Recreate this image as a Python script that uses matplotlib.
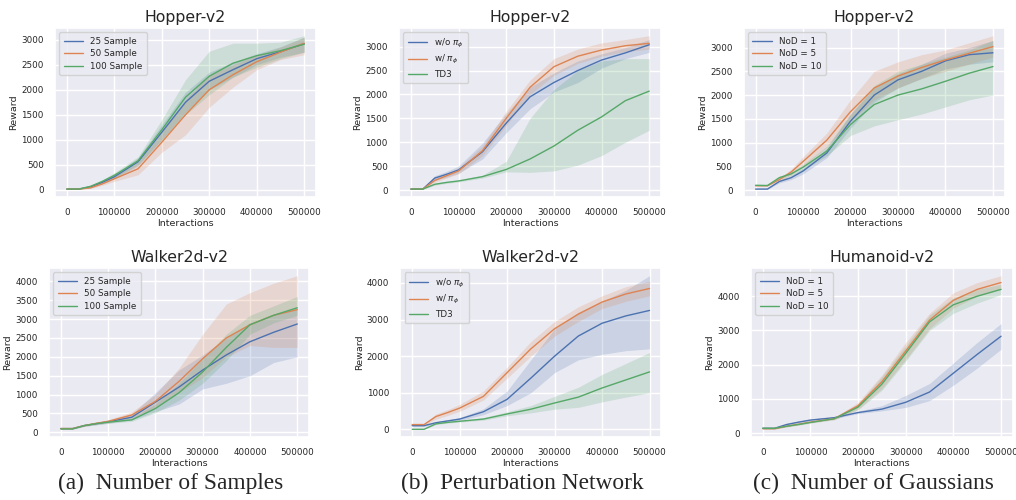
import numpy as np
import matplotlib
matplotlib.use("Agg")
import matplotlib.pyplot as plt
import seaborn as sns

steps = [0, 25000, 50000, 75000, 100000, 150000, 200000, 250000,
         300000, 350000, 400000, 450000, 500000]

# (a) Hopper-v2, number of samples
hop_s25 = [15, 15, 60, 150, 260, 560, 1150, 1750, 2170, 2400, 2620, 2760, 2920]
hop_s25_lo = [10, 10, 40, 120, 220, 480, 1000, 1550, 2000, 2250, 2500, 2650, 2750]
hop_s25_hi = [20, 20, 80, 180, 300, 640, 1300, 1950, 2350, 2550, 2720, 2860, 3050]
hop_s50 = [15, 15, 40, 120, 220, 420, 950, 1500, 2000, 2300, 2560, 2750, 2930]
hop_s50_lo = [10, 10, 25, 90, 170, 300, 750, 1100, 1650, 2050, 2400, 2600, 2700]
hop_s50_hi = [20, 20, 60, 150, 270, 550, 1150, 1800, 2300, 2500, 2700, 2850, 3050]
hop_s100 = [15, 15, 70, 170, 290, 580, 1200, 1850, 2270, 2530, 2680, 2780, 2910]
hop_s100_lo = [10, 10, 50, 140, 240, 500, 1000, 1500, 1900, 2250, 2450, 2620, 2750]
hop_s100_hi = [20, 20, 90, 200, 340, 660, 1400, 2200, 2770, 2930, 2930, 2950, 3080]

# (a) Walker2d-v2, number of samples
wal_s25 = [100, 100, 180, 230, 280, 400, 800, 1200, 1650, 2050, 2400, 2650, 2870]
wal_s25_lo = [90, 90, 160, 200, 240, 330, 550, 750, 1150, 1300, 1500, 1850, 2000]
wal_s25_hi = [110, 110, 200, 260, 330, 480, 1050, 1650, 2050, 2500, 2900, 3100, 3300]
wal_s50 = [100, 100, 180, 240, 290, 460, 820, 1350, 1950, 2500, 2850, 3100, 3250]
wal_s50_lo = [90, 90, 160, 210, 250, 380, 650, 1050, 1450, 2000, 2300, 2250, 2250]
wal_s50_hi = [110, 110, 200, 270, 330, 540, 1000, 1700, 2600, 3400, 3700, 3950, 4150]
wal_s100 = [90, 90, 180, 230, 270, 330, 630, 1050, 1600, 2250, 2850, 3100, 3300]
wal_s100_lo = [80, 80, 160, 200, 240, 290, 520, 850, 1300, 1900, 2600, 2900, 3100]
wal_s100_hi = [100, 100, 200, 260, 300, 380, 750, 1300, 1950, 2600, 3100, 3350, 3600]

# (b) Hopper-v2, perturbation network
hop_wo = [20, 20, 250, 330, 420, 800, 1400, 1950, 2250, 2500, 2720, 2870, 3040]
hop_wo_lo = [15, 15, 200, 270, 350, 650, 1200, 1700, 2050, 2250, 2550, 2750, 2880]
hop_wo_hi = [25, 25, 300, 390, 500, 980, 1600, 2150, 2450, 2700, 2850, 2980, 3150]
hop_w = [20, 20, 200, 300, 400, 820, 1500, 2150, 2580, 2800, 2930, 3020, 3070]
hop_w_lo = [15, 15, 160, 250, 340, 720, 1350, 2000, 2400, 2650, 2800, 2900, 2950]
hop_w_hi = [25, 25, 240, 350, 460, 920, 1650, 2300, 2750, 2950, 3080, 3150, 3230]
hop_td3 = [20, 20, 120, 160, 190, 280, 430, 650, 920, 1250, 1530, 1870, 2070]
hop_td3_lo = [15, 15, 100, 140, 170, 250, 380, 370, 400, 520, 720, 1000, 1250]
hop_td3_hi = [25, 25, 140, 180, 210, 310, 600, 1500, 2100, 2500, 2700, 2750, 2750]

# (b) Walker2d-v2, perturbation network
wal_wo = [100, 100, 180, 230, 280, 480, 820, 1400, 2000, 2550, 2900, 3100, 3250]
wal_wo_lo = [80, 80, 150, 200, 240, 400, 650, 1000, 1550, 1900, 2050, 2150, 2200]
wal_wo_hi = [120, 120, 210, 260, 320, 560, 1050, 1900, 2750, 3200, 3500, 3800, 4200]
wal_w = [130, 130, 350, 460, 580, 900, 1550, 2200, 2750, 3150, 3480, 3700, 3850]
wal_w_lo = [110, 110, 280, 380, 490, 800, 1400, 2000, 2550, 2950, 3300, 3500, 3650]
wal_w_hi = [150, 150, 420, 540, 680, 1050, 1700, 2400, 2950, 3350, 3650, 3900, 4050]
wal_td3 = [0, 0, 150, 190, 220, 280, 420, 550, 720, 880, 1130, 1350, 1570]
wal_td3_lo = [0, 0, 130, 170, 200, 250, 370, 450, 550, 600, 750, 880, 1000]
wal_td3_hi = [0, 0, 170, 210, 240, 320, 480, 650, 900, 1150, 1500, 1800, 2100]

# (c) Hopper-v2, number of Gaussians
hop_n1 = [20, 20, 180, 260, 400, 780, 1450, 2000, 2320, 2500, 2720, 2850, 2890]
hop_n1_lo = [15, 15, 150, 220, 340, 680, 1300, 1850, 2150, 2350, 2550, 2650, 2700]
hop_n1_hi = [25, 25, 210, 300, 460, 880, 1600, 2150, 2450, 2650, 2880, 3000, 3150]
hop_n5 = [90, 90, 220, 380, 600, 1050, 1650, 2150, 2400, 2580, 2740, 2880, 3020]
hop_n5_lo = [85, 85, 190, 320, 500, 900, 1450, 1900, 2150, 2350, 2500, 2650, 2800]
hop_n5_hi = [95, 95, 250, 440, 700, 1200, 1900, 2500, 2700, 2850, 2950, 3100, 3250]
hop_n10 = [100, 95, 260, 340, 480, 820, 1380, 1800, 2000, 2130, 2290, 2460, 2600]
hop_n10_lo = [95, 90, 230, 300, 420, 720, 1150, 1350, 1480, 1600, 1750, 1900, 2000]
hop_n10_hi = [105, 100, 290, 380, 540, 920, 1600, 2200, 2500, 2650, 2800, 2950, 3150]

# (c) Humanoid-v2, number of Gaussians
hum_n1 = [140, 140, 250, 320, 380, 450, 600, 700, 900, 1200, 1750, 2300, 2830]
hum_n1_lo = [120, 120, 220, 290, 350, 420, 570, 650, 750, 950, 1400, 1900, 2450]
hum_n1_hi = [160, 160, 280, 350, 410, 480, 640, 800, 1100, 1450, 2050, 2650, 3200]
hum_n5 = [130, 130, 200, 260, 320, 420, 800, 1500, 2400, 3300, 3880, 4200, 4400]
hum_n5_lo = [110, 110, 180, 240, 300, 390, 700, 1300, 2150, 3050, 3650, 4000, 4200]
hum_n5_hi = [150, 150, 220, 280, 340, 450, 900, 1700, 2650, 3500, 4100, 4400, 4600]
hum_n10 = [140, 140, 200, 250, 310, 420, 760, 1430, 2330, 3250, 3750, 4000, 4200]
hum_n10_lo = [120, 120, 180, 230, 290, 390, 680, 1250, 2100, 3000, 3500, 3800, 4050]
hum_n10_hi = [160, 160, 220, 270, 330, 450, 850, 1650, 2550, 3450, 3950, 4200, 4350]

lab_samples = ["25 Sample", "50 Sample", "100 Sample"]
lab_perturb = ["w/o $\\pi_\\phi$", "w/ $\\pi_\\phi$", "TD3"]
lab_nod = ["NoD = 1", "NoD = 5", "NoD = 10"]

sns.set_theme(style="darkgrid")
colors = sns.color_palette("deep")[:3]

fig = plt.figure(figsize=(10.16, 5.0), dpi=100)


def draw_panel(rect, title, series, labels, yticks):
    ax = fig.add_axes(rect)
    for (mean, lo, hi), lab, c in zip(series, labels, colors):
        ax.fill_between(steps, lo, hi, color=c, alpha=0.2, linewidth=0)
        ax.plot(steps, mean, color=c, linewidth=1.0, label=lab)
    ax.set_title(title, fontsize=11.3, pad=4)
    ax.set_xlabel("Interactions", fontsize=6.8, labelpad=1)
    ax.set_ylabel("Reward", fontsize=6.8, labelpad=2)
    ax.set_xticks([0, 100000, 200000, 300000, 400000, 500000])
    ax.set_yticks(yticks)
    ax.tick_params(labelsize=6.3, pad=2)
    ax.legend(loc="upper left", fontsize=6.3, handlelength=2.2, borderpad=0.5,
              labelspacing=0.4, frameon=True)
    return ax


h = 0.338
draw_panel([0.0541, 0.606, 0.257, h], "Hopper-v2",
           [(hop_s25, hop_s25_lo, hop_s25_hi), (hop_s50, hop_s50_lo, hop_s50_hi),
            (hop_s100, hop_s100_lo, hop_s100_hi)], lab_samples,
           range(0, 3001, 500))
draw_panel([0.3927, 0.606, 0.258, h], "Hopper-v2",
           [(hop_wo, hop_wo_lo, hop_wo_hi), (hop_w, hop_w_lo, hop_w_hi),
            (hop_td3, hop_td3_lo, hop_td3_hi)], lab_perturb,
           range(0, 3001, 500))
draw_panel([0.732, 0.606, 0.257, h], "Hopper-v2",
           [(hop_n1, hop_n1_lo, hop_n1_hi), (hop_n5, hop_n5_lo, hop_n5_hi),
            (hop_n10, hop_n10_lo, hop_n10_hi)], lab_nod,
           range(0, 3001, 500))
draw_panel([0.0482, 0.126, 0.256, h], "Walker2d-v2",
           [(wal_s25, wal_s25_lo, wal_s25_hi), (wal_s50, wal_s50_lo, wal_s50_hi),
            (wal_s100, wal_s100_lo, wal_s100_hi)], lab_samples,
           range(0, 4001, 500))
draw_panel([0.394, 0.126, 0.257, h], "Walker2d-v2",
           [(wal_wo, wal_wo_lo, wal_wo_hi), (wal_w, wal_w_lo, wal_w_hi),
            (wal_td3, wal_td3_lo, wal_td3_hi)], lab_perturb,
           range(0, 4001, 1000))
draw_panel([0.739, 0.126, 0.258, h], "Humanoid-v2",
           [(hum_n1, hum_n1_lo, hum_n1_hi), (hum_n5, hum_n5_lo, hum_n5_hi),
            (hum_n10, hum_n10_lo, hum_n10_hi)], lab_nod,
           range(0, 4001, 1000))

# sub-figure captions
cap_font = dict(fontsize=16.8, family="Liberation Serif", ha="center", va="center")
fig.text(171 / 1016, 1 - 483 / 500, "(a)  Number of Samples", **cap_font)
fig.text(522 / 1016, 1 - 483 / 500, "(b)  Perturbation Network", **cap_font)
fig.text(873 / 1016, 1 - 483 / 500, "(c)  Number of Gaussians", **cap_font)

fig.savefig("out.png", dpi=100)
